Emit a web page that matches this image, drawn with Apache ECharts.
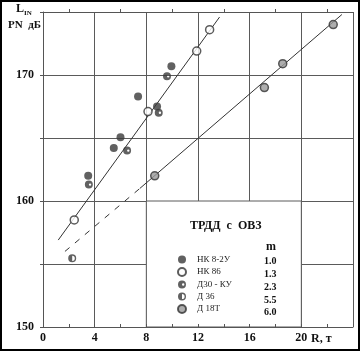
<!DOCTYPE html>
<html>
<head>
<meta charset="utf-8">
<script src="https://cdn.jsdelivr.net/npm/echarts@6/dist/echarts.min.js"></script>
<style>
  html, body { margin: 0; padding: 0; background: #fff; }
  #chart { width: 360px; height: 351px; }
</style>
</head>
<body>
<div id="chart"></div>
<script>
// engine types (legend names) and their m values
var engines = ['НК 8-2У', 'НК 86', 'Д30 - КУ', 'Д 36', 'Д 18Т'];
var mValues = ['1.0', '1.3', '2.3', '5.5', '6.0'];

// measured points [R, L]
var nk82u = [[3.5, 162.0], [5.48, 164.2], [6.0, 165.05], [7.36, 168.3], [8.83, 167.5], [9.94, 170.7]];
var nk86 = [[2.42, 158.5], [8.13, 167.1], [11.9, 171.9], [12.9, 173.6]];
var d30ku = [[3.55, 161.3], [6.51, 164.0], [8.96, 167.0], [9.6, 169.9]];
var d36 = [[2.26, 155.45]];
var d18t = [[8.65, 162.0], [17.14, 169.0], [18.56, 170.9], [22.47, 174.0]];

// fitted lines
var lineLeft = [[1.18, 156.9], [13.67, 174.6]];
var lineRight = [[7.5, 161.0], [23.14, 174.8]];
var lineRightDash = [[1.7, 156.0], [7.5, 161.0]];

// axis ticks
var xTicks = [0, 4, 8, 12, 16, 20];
var yTicks = [150, 160, 170];

var serif = 'Liberation Serif';
var ink = '#333';

var ringDot = 'path://M10,0 A10,10 0 1,1 10,20 A10,10 0 1,1 10,0 Z M13,7 A3,3 0 1,0 13,13 A3,3 0 1,0 13,7 Z';
var ringHalf = 'path://M10,0 A10,10 0 1,1 10,20 A10,10 0 1,1 10,0 Z M10,3.5 A6.5,6.5 0 1,0 10,16.5 A6.5,6.5 0 1,0 10,3.5 Z M10,3.5 A6.5,6.5 0 0,0 10,16.5 Z';

var chart = echarts.init(document.getElementById('chart'));

function pointSeries(name, data, symbol, style) {
  return {
    name: name,
    type: 'scatter',
    data: data,
    symbol: symbol,
    symbolSize: 8,
    itemStyle: style,
    z: 5
  };
}

var option = {
  backgroundColor: '#fff',
  animation: false,
  grid: { left: 43, right: 7, top: 12, bottom: 24 },
  legend: {
    data: engines,
    orient: 'vertical',
    left: 172,
    top: 250,
    itemWidth: 8,
    itemHeight: 8,
    itemGap: 3,
    textStyle: { fontFamily: serif, fontSize: 9, color: '#222', padding: [0, 0, 0, 6] }
  },
  xAxis: [{
    type: 'value',
    position: 'bottom',
    min: 0, max: 24, interval: 2,
    z: 3,
    axisLine: { lineStyle: { color: '#555', width: 1 } },
    axisTick: { show: true, inside: true, length: 3, lineStyle: { color: '#555' } },
    axisLabel: {
      margin: 5,
      fontFamily: serif, fontWeight: 'bold', fontSize: 12, color: '#111',
      formatter: function (v) { return xTicks.indexOf(v) >= 0 ? String(v) : ''; }
    },
    splitLine: { show: false }
  }, {
    type: 'value',
    position: 'top',
    min: 0, max: 24, interval: 4,
    axisLine: { show: true, onZero: false, lineStyle: { color: '#555' } },
    axisTick: { show: false },
    minorTick: { show: true, splitNumber: 2, length: 3, lineStyle: { color: '#555' } },
    axisLabel: { show: false },
    splitLine: { show: true, lineStyle: { color: '#5a5a5a', width: 1 } }
  }],
  yAxis: {
    type: 'value',
    min: 150, max: 175, interval: 5,
    axisLine: { show: true, lineStyle: { color: '#555' } },
    axisTick: { show: true, length: 3, lineStyle: { color: '#555' } },
    axisLabel: {
      margin: 9,
      fontFamily: serif, fontWeight: 'bold', fontSize: 12, color: '#111',
      formatter: function (v) { return yTicks.indexOf(v) >= 0 ? String(v) : ''; }
    },
    splitLine: { show: true, lineStyle: { color: '#5a5a5a', width: 1 } }
  },
  series: [
    {
      type: 'line', data: lineLeft, symbol: 'none', silent: true,
      lineStyle: { color: ink, width: 1 }, z: 3,
      markArea: {
        silent: true,
        itemStyle: { color: '#fff', borderColor: '#5a5a5a', borderWidth: 1 },
        data: [[{ coord: [8, 150] }, { coord: [20, 160] }]]
      }
    },
    { type: 'line', data: lineRight, symbol: 'none', silent: true, lineStyle: { color: ink, width: 1 }, z: 3 },
    { type: 'line', data: lineRightDash, symbol: 'none', silent: true, lineStyle: { color: ink, width: 1, type: [6, 7] }, z: 3 },
    pointSeries(engines[0], nk82u, 'circle', { color: '#3a3a3a' }),
    pointSeries(engines[1], nk86, 'circle', { color: '#fff', borderColor: '#333', borderWidth: 1.5 }),
    pointSeries(engines[2], d30ku, ringDot, { color: '#3a3a3a' }),
    pointSeries(engines[3], d36, ringHalf, { color: '#3a3a3a' }),
    pointSeries(engines[4], d18t, 'circle', { color: '#9a9a9a', borderColor: '#333', borderWidth: 1.5 })
  ],
  graphic: [
    { type: 'rect', z: 100, silent: true, shape: { x: 1, y: 1, width: 358, height: 349 },
      style: { fill: 'none', stroke: '#000', lineWidth: 2 } },
    { type: 'text', z: 100, left: 16, top: 3,
      style: { text: '{a|L}{b|IN}', rich: {
        a: { fontFamily: serif, fontWeight: 'bold', fontSize: 12, fill: '#111' },
        b: { fontFamily: serif, fontWeight: 'bold', fontSize: 7, fill: '#111', padding: [8, 0, 0, 0] }
      } } },
    { type: 'text', z: 100, left: 8, top: 20,
      style: { text: 'PN  дБ', fontFamily: serif, fontWeight: 'bold', fontSize: 11, fill: '#111' } },
    { type: 'text', z: 100, left: 311, top: 333,
      style: { text: 'R, т', fontFamily: serif, fontWeight: 'bold', fontSize: 12, fill: '#111' } },
    { type: 'text', z: 100, left: 190, top: 220,
      style: { text: 'ТРДД  с  ОВЗ', fontFamily: serif, fontWeight: 'bold', fontSize: 12, fill: '#111' } },
    { type: 'text', z: 100, left: 266, top: 241,
      style: { text: 'm', fontFamily: serif, fontWeight: 'bold', fontSize: 12, fill: '#111' } }
  ]
};

var mTop = [256, 269, 282, 295, 307];
mValues.forEach(function (m, i) {
  option.graphic.push({
    type: 'text', z: 100, left: 264, top: mTop[i],
    style: { text: m, fontFamily: serif, fontWeight: 'bold', fontSize: 10, fill: '#111' }
  });
});

chart.setOption(option);
</script>
</body>
</html>
